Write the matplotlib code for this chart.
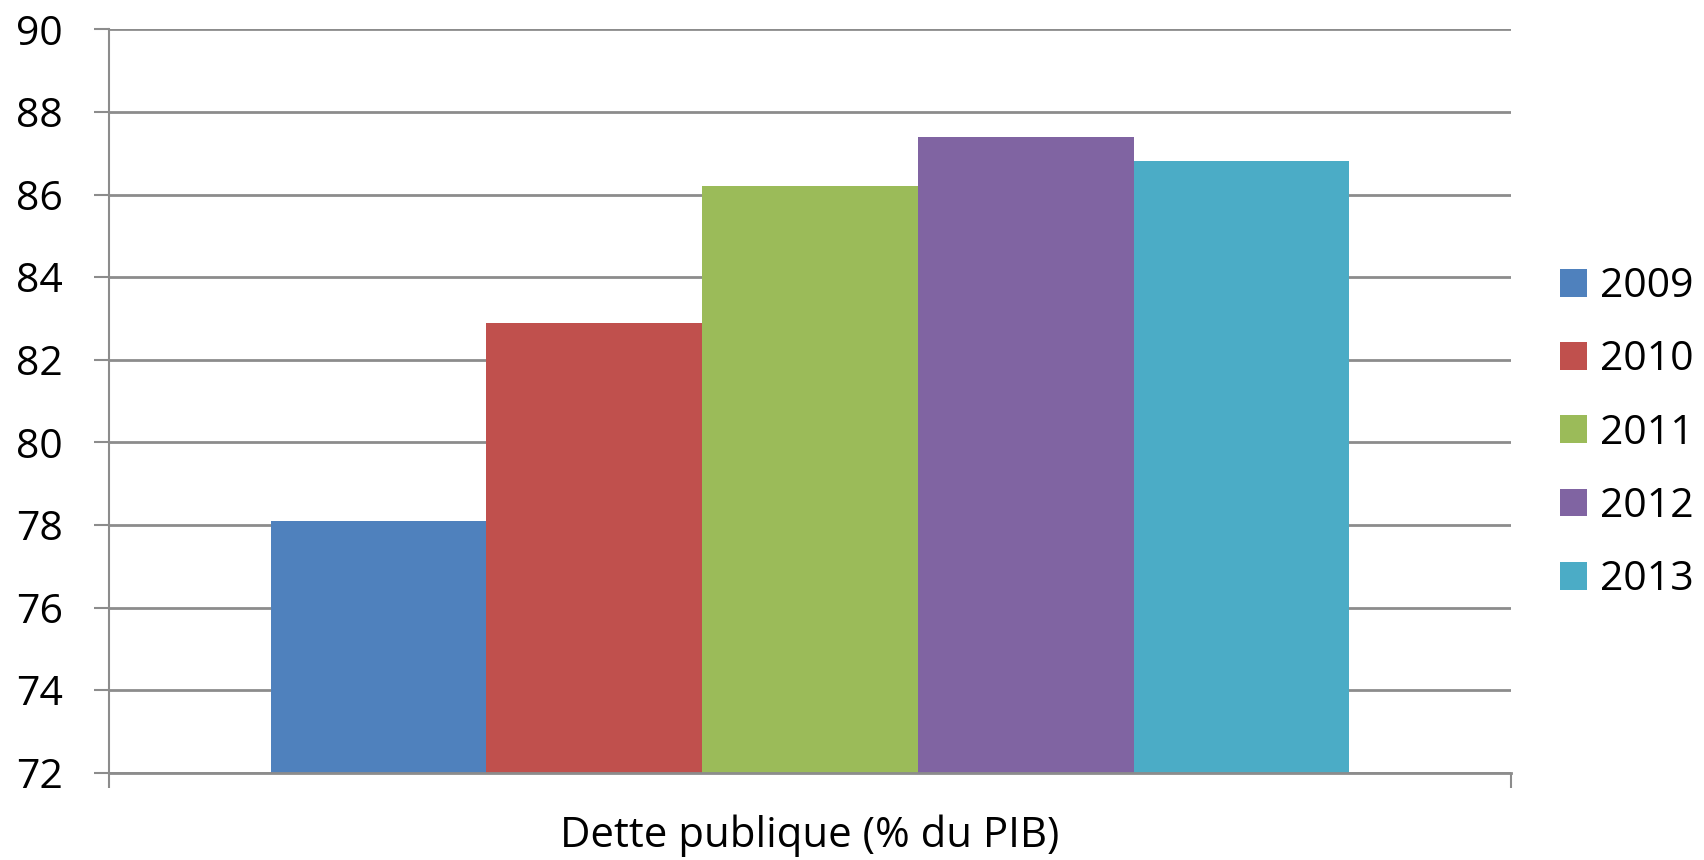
import matplotlib
matplotlib.use("Agg")
import matplotlib.pyplot as plt
from matplotlib.patches import Patch

years = ["2009", "2010", "2011", "2012", "2013"]
values = [78.1, 82.9, 86.2, 87.4, 86.8]
colors = ["#4F81BD", "#C0504D", "#9BBB59", "#8064A2", "#4BACC6"]
category = "Dette publique (% du PIB)"
yticks = [72, 74, 76, 78, 80, 82, 84, 86, 88, 90]

plt.rcParams['font.family'] = ['Open Sans', 'DejaVu Sans']
FS = 29.5
GRID = "#8C8C8C"

fig = plt.figure(figsize=(17.04, 8.6), dpi=100)
ax = fig.add_axes([109/1704, 1-772.7/860, (1511-109)/1704, (772.7-29.3)/860])

gap = 0.1152
bw = (1 - 2*gap) / len(values)
for i, (v, c) in enumerate(zip(values, colors)):
    ax.bar(gap + bw*i, v - yticks[0], bottom=yticks[0], width=bw, align='edge',
           color=c, zorder=3, linewidth=0)

ax.set_xlim(0, 1)
ax.set_ylim(yticks[0], yticks[-1])
ax.set_yticks(yticks)
ax.set_yticklabels([str(t) for t in yticks], fontsize=FS)
ax.yaxis.grid(True, color=GRID, linewidth=2, zorder=1)
ax.set_axisbelow(True)
ax.tick_params(axis='y', length=11, width=1.5, color=GRID, pad=22)

ax.set_xticks([0, 1])
ax.set_xticklabels(["", ""])
ax.set_xticks([0.5], minor=True)
ax.set_xticklabels([category], minor=True, fontsize=30.2)
ax.tick_params(axis='x', which='major', length=11, width=1.5, color=GRID, direction='out')
ax.tick_params(axis='x', which='minor', length=0, pad=30)

for s in ['top', 'right']:
    ax.spines[s].set_visible(False)
ax.spines['left'].set_color(GRID)
ax.spines['left'].set_linewidth(1.5)
ax.spines['bottom'].set_color(GRID)
ax.spines['bottom'].set_linewidth(2)
ax.spines['bottom'].set_zorder(4)

handles = [Patch(facecolor=c, edgecolor='none', label=y) for y, c in zip(years, colors)]
fig.legend(handles=handles, loc='center left', bbox_to_anchor=(1560/1704, 1-433.4/860),
           frameon=False, fontsize=FS, handlelength=0.66, handleheight=0.66,
           handletextpad=0.32, labelspacing=0.8, borderpad=0, borderaxespad=0)

fig.savefig("out.png", dpi=100, facecolor='white')
